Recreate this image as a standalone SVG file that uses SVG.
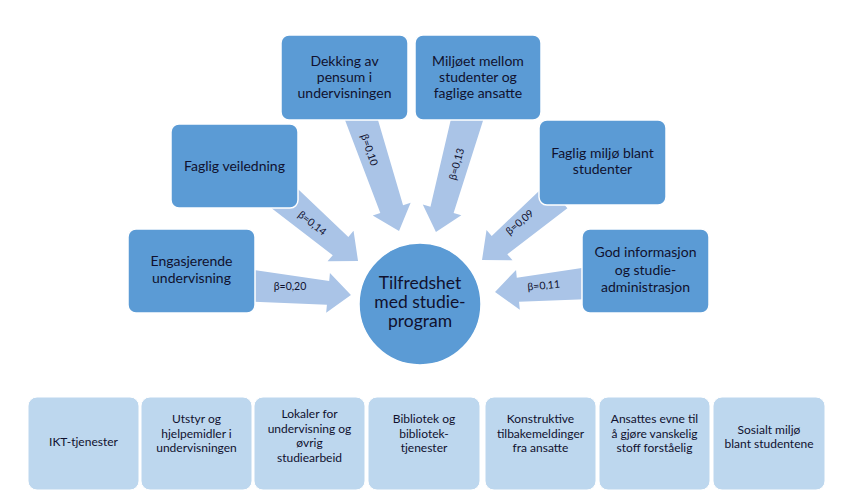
<svg xmlns="http://www.w3.org/2000/svg" width="847" height="497" viewBox="0 0 847 497">
<style>
.bg{fill:#ffffff}
.arrow{fill:#AAC4E7}
.box{fill:#5B9BD5;stroke:#ffffff;stroke-width:1.5}
.sub{fill:#BDD7EE;stroke:#ffffff;stroke-width:1}
.t{font-family:Lato,"Liberation Sans",sans-serif;fill:#10112e;text-anchor:middle}
.bt{font-size:14px}
.st{font-size:12px}
.ct{font-size:17.5px}
.lb{font-size:10.5px}
</style>
<rect class="bg" x="0" y="0" width="847" height="497"/>
<g id="connectors">
  <g id="c-eng" transform="translate(250,285.5) rotate(5.4)">
    <polygon class="arrow" points="0,-16 78.4,-12 78.4,-20 101.4,0 78.4,20 78.4,12 0,16"/>
  </g>
  <g id="c-fv" transform="translate(282,196) rotate(40.5)">
    <polygon class="arrow" points="0,-16 77,-12 77,-20 100,0 77,20 77,12 0,16"/>
  </g>
  <g id="c-dek" transform="translate(359,112) rotate(71.4)">
    <polygon class="arrow" points="0,-16 102.5,-12 102.5,-20 125.5,0 102.5,20 102.5,12 0,16"/>
  </g>
  <g id="c-mil" transform="translate(469,112) rotate(105.4)">
    <polygon class="arrow" points="0,-16 101.5,-12 101.5,-20 124.5,0 101.5,20 101.5,12 0,16"/>
  </g>
  <g id="c-fm" transform="translate(557,196) rotate(139.5)">
    <polygon class="arrow" points="0,-16 75.6,-12 75.6,-20 98.6,0 75.6,20 75.6,12 0,16"/>
  </g>
  <g id="c-gi" transform="translate(590,283) rotate(174.6)">
    <polygon class="arrow" points="0,-16 72.4,-12 72.4,-20 95.4,0 72.4,20 72.4,12 0,16"/>
  </g>
  <text class="t lb" x="290" y="290">β=0,20</text>
  <text class="t lb" transform="translate(310,226) rotate(38)">β=0,14</text>
  <text class="t lb" transform="translate(366,151) rotate(71)">β=0,10</text>
  <text class="t lb" transform="translate(460,165) rotate(-75)">β=0,13</text>
  <text class="t lb" transform="translate(522,225) rotate(-40)">β=0,09</text>
  <text class="t lb" transform="translate(544,289) rotate(-5)">β=0,11</text>
</g>
<g id="n-eng">
  <rect class="box" x="128" y="229" width="127" height="84" rx="8"/>
  <text class="t bt" x="191.5" y="266">Engasjerende</text>
  <text class="t bt" x="191.5" y="283">undervisning</text>
</g>
<g id="n-fv">
  <rect class="box" x="171" y="124" width="127" height="84" rx="8"/>
  <text class="t bt" x="234.5" y="171">Faglig veiledning</text>
</g>
<g id="n-dek">
  <rect class="box" x="281" y="35" width="127" height="85" rx="8"/>
  <text class="t bt" x="344.5" y="66">Dekking av</text>
  <text class="t bt" x="344.5" y="82">pensum i</text>
  <text class="t bt" x="344.5" y="98">undervisningen</text>
</g>
<g id="n-mil">
  <rect class="box" x="415" y="35" width="126" height="85" rx="8"/>
  <text class="t bt" x="478" y="66">Miljøet mellom</text>
  <text class="t bt" x="478" y="82">studenter og</text>
  <text class="t bt" x="478" y="98">faglige ansatte</text>
</g>
<g id="n-fm">
  <rect class="box" x="539" y="120" width="127" height="85" rx="8"/>
  <text class="t bt" x="602.5" y="157.5">Faglig miljø blant</text>
  <text class="t bt" x="602.5" y="174">studenter</text>
</g>
<g id="n-gi">
  <rect class="box" x="582" y="229" width="127" height="84" rx="8"/>
  <text class="t bt" x="645.5" y="257">God informasjon</text>
  <text class="t bt" x="645.5" y="274.5">og studie-</text>
  <text class="t bt" x="645.5" y="292">administrasjon</text>
</g>
<g id="n-center">
  <circle cx="420" cy="304" r="61" fill="#5B9BD5" stroke="#ffffff" stroke-width="1.5"/>
  <text class="t ct" x="420" y="289">Tilfredshet</text>
  <text class="t ct" x="420" y="308">med studie-</text>
  <text class="t ct" x="420" y="327">program</text>
</g>
<g id="n-ikt">
  <rect class="sub" x="28" y="397" width="111" height="93" rx="9"/>
  <text class="t st" x="83.5" y="446">IKT-tjenester</text>
</g>
<g id="n-utstyr">
  <rect class="sub" x="141" y="397" width="111" height="93" rx="9"/>
  <text class="t st" x="196.5" y="423">Utstyr og</text>
  <text class="t st" x="196.5" y="437.5">hjelpemidler i</text>
  <text class="t st" x="196.5" y="452">undervisningen</text>
</g>
<g id="n-lokaler">
  <rect class="sub" x="254" y="397" width="111" height="93" rx="9"/>
  <text class="t st" x="309.5" y="418">Lokaler for</text>
  <text class="t st" x="309.5" y="432.5">undervisning og</text>
  <text class="t st" x="309.5" y="447">øvrig</text>
  <text class="t st" x="309.5" y="461.5">studiearbeid</text>
</g>
<g id="n-bibliotek">
  <rect class="sub" x="368" y="397" width="112" height="93" rx="9"/>
  <text class="t st" x="424" y="423">Bibliotek og</text>
  <text class="t st" x="424" y="437.5">bibliotek-</text>
  <text class="t st" x="424" y="452">tjenester</text>
</g>
<g id="n-konstruktive">
  <rect class="sub" x="485" y="397" width="111" height="93" rx="9"/>
  <text class="t st" x="540.5" y="423">Konstruktive</text>
  <text class="t st" x="540.5" y="437.5">tilbakemeldinger</text>
  <text class="t st" x="540.5" y="452">fra ansatte</text>
</g>
<g id="n-ansattes">
  <rect class="sub" x="599" y="397" width="111" height="93" rx="9"/>
  <text class="t st" x="654.5" y="423">Ansattes evne til</text>
  <text class="t st" x="654.5" y="437.5">å gjøre vanskelig</text>
  <text class="t st" x="654.5" y="452">stoff forståelig</text>
</g>
<g id="n-sosialt">
  <rect class="sub" x="713" y="397" width="112" height="93" rx="9"/>
  <text class="t st" x="769" y="433.5">Sosialt miljø</text>
  <text class="t st" x="769" y="448">blant studentene</text>
</g>
</svg>
